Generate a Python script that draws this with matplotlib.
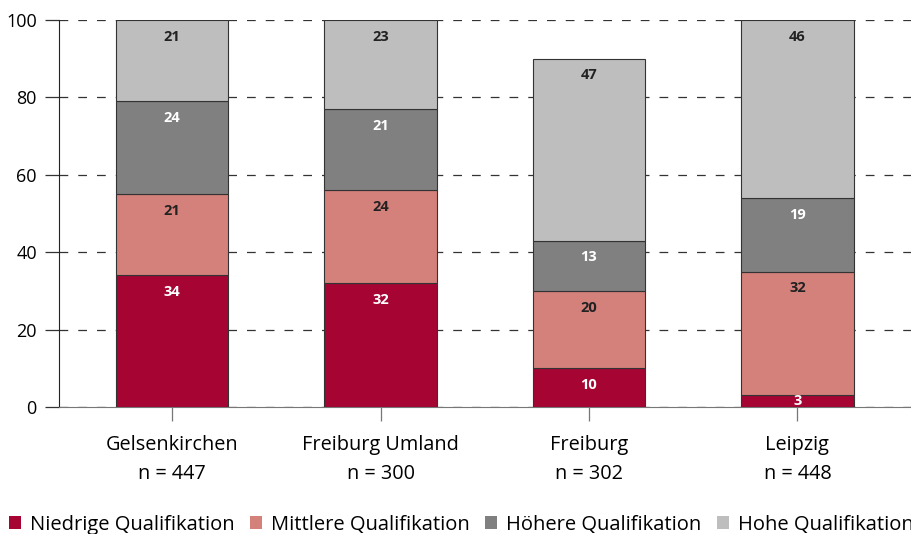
import matplotlib
matplotlib.use("Agg")
import matplotlib.pyplot as plt
from matplotlib.patches import Patch
import numpy as np

plt.rcParams['font.family'] = ['Open Sans', 'DejaVu Sans']

categories = ["Gelsenkirchen", "Freiburg Umland", "Freiburg", "Leipzig"]
n_values = ["447", "300", "302", "448"]
series_names = ["Niedrige Qualifikation", "Mittlere Qualifikation", "Höhere Qualifikation", "Hohe Qualifikation"]
niedrige = [34, 32, 10, 3]
mittlere = [21, 24, 20, 32]
hoehere = [24, 21, 13, 19]
hohe = [21, 23, 47, 46]
colors = ["#A60534", "#D4817B", "#808080", "#BEBEBE"]
label_colors = ["white", "#222222", "white", "#222222"]
yticks = [0, 20, 40, 60, 80, 100]

fig = plt.figure(figsize=(9.11, 5.34), dpi=100)
ax = fig.add_axes([59/911, 1-407/534, (912-59)/911, (407-20)/534])

x = np.arange(len(categories))
bottom = np.zeros(len(categories))
for vals, col, lc in zip([niedrige, mittlere, hoehere, hohe], colors, label_colors):
    vals = np.array(vals, dtype=float)
    ax.bar(x, vals, 0.54, bottom=bottom, color=col, edgecolor="#333333", linewidth=0.8, zorder=3)
    for xi, b, v in zip(x, bottom, vals):
        ax.text(xi, b + v - 4.3 if v > 8 else b + v / 2, f"{int(v)}", ha="center", va="center",
                color=lc, fontsize=10.5, fontweight="bold", zorder=4)
    bottom += vals

ax.set_xlim(-0.543, 3.55)
ax.set_ylim(0, 100)
ax.set_yticks(yticks)
ax.set_yticklabels([str(t) for t in yticks], fontsize=13)
ax.yaxis.grid(True, linestyle=(0, (7, 8)), color="#333333", linewidth=0.9, zorder=0)
ax.set_axisbelow(True)
ax.set_xticks(x)
ax.set_xticklabels([f"{c}\nn = {n}" for c, n in zip(categories, n_values)], fontsize=14.3, linespacing=1.6)
ax.tick_params(axis="y", length=10, width=0.9, pad=6, color="#333333")
ax.tick_params(axis="x", length=10, width=0.9, pad=10, color="#777777")
for s in ["top", "right"]:
    ax.spines[s].set_visible(False)
ax.spines["left"].set_color("#222222")
ax.spines["bottom"].set_color("#777777")

handles = [Patch(facecolor=c, edgecolor="none") for c in colors]
fig.legend(handles, series_names, loc="lower left", bbox_to_anchor=(-0.003, -0.024), ncol=4, frameon=False,
           fontsize=14.5, handlelength=0.6, handleheight=0.6, handletextpad=0.45, columnspacing=0.75,
           borderaxespad=0.2)

fig.savefig("out.png", dpi=100)
